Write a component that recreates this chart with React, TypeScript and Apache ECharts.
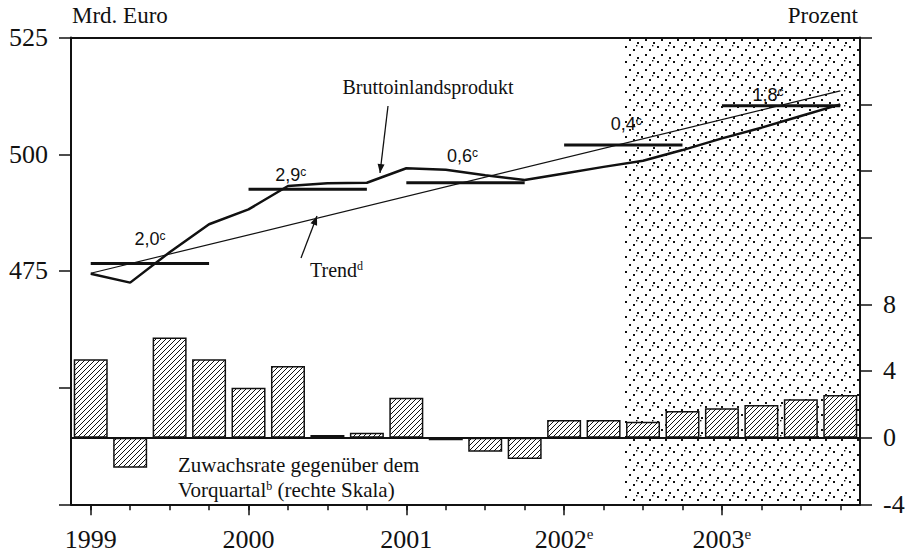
import React, { useEffect, useRef } from 'react';
import * as echarts from 'echarts';

// ---------- data ----------
const quarters = [
  '1999-Q1', '1999-Q2', '1999-Q3', '1999-Q4',
  '2000-Q1', '2000-Q2', '2000-Q3', '2000-Q4',
  '2001-Q1', '2001-Q2', '2001-Q3', '2001-Q4',
  '2002-Q1', '2002-Q2', '2002-Q3', '2002-Q4',
  '2003-Q1', '2003-Q2', '2003-Q3', '2003-Q4',
];
const yearLabels = ['1999', '2000', '2001', '2002{e|e}', '2003{e|e}'];

// Bruttoinlandsprodukt, Mrd. Euro (left scale)
const gdp = [
  474.4, 472.5, 479.0, 485.0,
  488.2, 493.2, 493.8, 493.9,
  497.0, 496.7, 495.5, 494.5,
  495.9, 497.3, 498.6, 500.9,
  503.4, 505.7, 508.2, 510.7,
];
// Zuwachsrate gegenüber dem Vorquartal, % (right scale)
const growthRate = [
  4.7, -1.8, 6.0, 4.7,
  3.0, 4.3, 0.16, 0.3,
  2.4, -0.15, -0.84, -1.28,
  1.06, 1.06, 0.96, 1.6,
  1.76, 1.96, 2.3, 2.56,
];
// Trend (start and end of the straight trend line)
const trendEnds = [474.5, 513.6];
// Annual averages and annual growth rates
const annualAverage = [476.6, 492.5, 493.9, 502.0, 510.4];
const annualGrowth = ['2,0', '2,9', '0,6', '0,4', '1,8'];
// forecast period starts with this quarter index
const forecastStart = 14;

// ---------- layout constants ----------
const labelOffsets = [[0, -24], [-17, -14], [-3, -27], [3, -21], [-13, -11]];
const SERIF = '"Liberation Serif", "Times New Roman", serif';
const SANS = '"Liberation Sans", Arial, sans-serif';
const INK = '#111';

function makeHatch() {
  const s = 5;
  const c = document.createElement('canvas');
  c.width = s; c.height = s;
  const ctx = c.getContext('2d')!;
  ctx.fillStyle = '#fff';
  ctx.fillRect(0, 0, s, s);
  ctx.strokeStyle = '#111';
  ctx.lineWidth = 1;
  for (const k of [-1, 0, 1]) {
    ctx.beginPath();
    ctx.moveTo(k * s, s);
    ctx.lineTo(k * s + s, 0);
    ctx.stroke();
  }
  return { image: c.toDataURL(), repeat: 'repeat', imageWidth: s, imageHeight: s };
}

function makeStipple() {
  const w = 16, h = 15;
  const c = document.createElement('canvas');
  c.width = w; c.height = h;
  const ctx = c.getContext('2d')!;
  ctx.clearRect(0, 0, w, h);
  ctx.fillStyle = '#111';
  const dots = [[1, 1, 2, 2], [9, 4, 2, 2], [5, 9, 2, 2], [13, 12, 2, 2], [12, 0, 1.4, 1.4]];
  dots.forEach(([x, y, a, b]) => ctx.fillRect(x, y, a, b));
  return { image: c.toDataURL(), repeat: 'repeat', imageWidth: w, imageHeight: h };
}

function arrowHead(tip: number[], from: number[], len = 9, half = 3.5) {
  const dx = tip[0] - from[0], dy = tip[1] - from[1];
  const d = Math.hypot(dx, dy);
  const ux = dx / d, uy = dy / d;
  const bx = tip[0] - ux * len, by = tip[1] - uy * len;
  return [tip, [bx - uy * half, by + ux * half], [bx + uy * half, by - ux * half]];
}

export default function App() {
  const ref = useRef<HTMLDivElement>(null);

  useEffect(() => {
    if (!ref.current) return;
    const chart = echarts.init(ref.current, undefined, { renderer: 'svg' });
    const hatch = makeHatch();
    const stipple = makeStipple();

    const segmentSeries = annualAverage.map((v, i) => ({
      type: 'line',
      xAxisIndex: 2,
      yAxisIndex: 0,
      z: 4,
      symbol: 'none',
      lineStyle: { color: INK, width: 3 },
      data: [[4 * i + 0.5, v], [4 * i + 3.5, v]],
      markPoint: {
        symbol: 'circle',
        symbolSize: 1,
        itemStyle: { color: 'rgba(0,0,0,0)' },
        silent: true,
        data: [{
          coord: [4 * i + 2, v],
          label: {
            show: true,
            offset: labelOffsets[i],
            formatter: `{n|${annualGrowth[i]}}{s|c}`,
            rich: {
              n: { fontFamily: SANS, fontSize: 18, color: INK },
              s: { fontFamily: SANS, fontSize: 12, color: INK, verticalAlign: 'top' },
            },
          },
        }],
      },
    }));

    const bipArrowFrom = [388, 106], bipArrowTip = [380, 173];
    const trendArrowFrom = [301, 258], trendArrowTip = [317, 216];

    const option: any = {
      animation: false,
      backgroundColor: '#fff',
      grid: { left: 71, right: 52, top: 37.6, bottom: 49.7, containLabel: false },
      xAxis: [
        {
          type: 'category',
          data: quarters,
          position: 'bottom',
          boundaryGap: true,
          axisLine: { show: true, onZero: false, lineStyle: { color: INK, width: 2 } },
          axisTick: { show: true, alignWithLabel: true, interval: 0, length: 6, lineStyle: { color: INK, width: 1.5 } },
          axisLabel: { show: false },
          splitLine: { show: false },
        },
        {
          type: 'category',
          data: quarters,
          position: 'bottom',
          boundaryGap: true,
          axisLine: { show: false, onZero: false },
          axisTick: {
            show: true, alignWithLabel: true, length: 11,
            interval: (i: number) => i % 4 === 0,
            lineStyle: { color: INK, width: 1.5 },
          },
          axisLabel: {
            show: true,
            interval: (i: number) => i % 4 === 0,
            formatter: (_v: string, i: number) => (i % 4 === 0 ? yearLabels[i / 4] : ''),
            margin: 22,
            color: INK,
            fontFamily: SERIF,
            fontSize: 26,
            rich: { e: { fontFamily: SERIF, fontSize: 15, color: INK, verticalAlign: 'top' } },
          },
          splitLine: { show: false },
        },
        {
          type: 'value',
          min: 0,
          max: 20,
          position: 'top',
          axisLine: { show: true, onZero: false, lineStyle: { color: INK, width: 2 } },
          axisTick: { show: false },
          axisLabel: { show: false },
          splitLine: { show: false },
        },
      ],
      yAxis: [
        {
          type: 'value',
          position: 'left',
          min: 425,
          max: 525,
          interval: 25,
          axisLine: { show: true, onZero: false, lineStyle: { color: INK, width: 2 } },
          axisTick: { show: true, length: 12, lineStyle: { color: INK, width: 1.5 } },
          axisLabel: {
            formatter: (v: number) => (v >= 475 ? String(v) : ''),
            color: INK, fontFamily: SERIF, fontSize: 26, margin: 23,
          },
          splitLine: { show: false },
        },
        {
          type: 'value',
          position: 'right',
          min: -4,
          max: 24,
          interval: 4,
          axisLine: { show: true, onZero: false, lineStyle: { color: INK, width: 2 } },
          axisTick: { show: true, length: 12, lineStyle: { color: INK, width: 1.5 } },
          axisLabel: {
            formatter: (v: number) => (v <= 8 ? String(v) : ''),
            color: INK, fontFamily: SERIF, fontSize: 26, margin: 23,
          },
          splitLine: { show: false },
        },
      ],
      series: [
        {
          type: 'line',
          name: 'forecast',
          xAxisIndex: 2,
          yAxisIndex: 0,
          z: 1,
          data: [],
          markArea: {
            silent: true,
            itemStyle: { color: stipple },
            data: [[{ xAxis: forecastStart }, { xAxis: quarters.length }]],
          },
        },
        {
          type: 'bar',
          name: 'Zuwachsrate',
          xAxisIndex: 0,
          yAxisIndex: 1,
          z: 2,
          barWidth: 34,
          data: growthRate,
          itemStyle: { color: hatch, borderColor: INK, borderWidth: 1.5 },
          markLine: {
            silent: true,
            symbol: 'none',
            label: { show: false },
            lineStyle: { color: INK, width: 2, type: 'solid' },
            data: [{ yAxis: 0 }],
          },
        },
        {
          type: 'line',
          name: 'Trend',
          xAxisIndex: 2,
          yAxisIndex: 0,
          z: 3,
          symbol: 'none',
          lineStyle: { color: INK, width: 1.2 },
          data: [[0.5, trendEnds[0]], [quarters.length - 0.5, trendEnds[1]]],
        },
        {
          type: 'line',
          name: 'Bruttoinlandsprodukt',
          xAxisIndex: 0,
          yAxisIndex: 0,
          z: 5,
          symbol: 'none',
          lineStyle: { color: INK, width: 2.5 },
          data: gdp,
        },
        ...segmentSeries,
      ],
      graphic: [
        {
          type: 'text', left: 72, top: 4,
          style: { text: 'Mrd. Euro', fontFamily: SERIF, fontSize: 23, fill: INK },
        },
        {
          type: 'text', right: 54, top: 4,
          style: { text: 'Prozent', fontFamily: SERIF, fontSize: 23, fill: INK },
        },
        {
          type: 'text', x: 428, y: 87,
          style: {
            text: 'Bruttoinlandsprodukt', fontFamily: SERIF, fontSize: 20, fill: INK,
            textAlign: 'center', textVerticalAlign: 'middle', align: 'center', verticalAlign: 'middle',
          },
        },
        {
          type: 'text', x: 310, y: 270,
          style: {
            text: '{a|Trend}{b|d}', fill: INK,
            textAlign: 'left', textVerticalAlign: 'middle', align: 'left', verticalAlign: 'middle',
            rich: {
              a: { fontFamily: SERIF, fontSize: 20, fill: INK, color: INK },
              b: { fontFamily: SERIF, fontSize: 12, fill: INK, color: INK, verticalAlign: 'top' },
            },
          },
        },
        {
          type: 'text', x: 178, y: 465,
          style: {
            text: 'Zuwachsrate gegenüber dem', fontFamily: SERIF, fontSize: 21, fill: INK,
            textAlign: 'left', textVerticalAlign: 'middle', align: 'left', verticalAlign: 'middle',
          },
        },
        {
          type: 'text', x: 178, y: 490,
          style: {
            text: '{a|Vorquartal}{b|b}{a| (rechte Skala)}', fill: INK,
            textAlign: 'left', textVerticalAlign: 'middle', align: 'left', verticalAlign: 'middle',
            rich: {
              a: { fontFamily: SERIF, fontSize: 21, fill: INK, color: INK },
              b: { fontFamily: SERIF, fontSize: 12, fill: INK, color: INK, verticalAlign: 'top' },
            },
          },
        },
        {
          type: 'line',
          shape: { x1: bipArrowFrom[0], y1: bipArrowFrom[1], x2: bipArrowTip[0], y2: bipArrowTip[1] },
          style: { stroke: INK, lineWidth: 1.3 },
          z: 10,
        },
        {
          type: 'polygon',
          shape: { points: arrowHead(bipArrowTip, bipArrowFrom) },
          style: { fill: INK },
          z: 10,
        },
        {
          type: 'line',
          shape: { x1: trendArrowFrom[0], y1: trendArrowFrom[1], x2: trendArrowTip[0], y2: trendArrowTip[1] },
          style: { stroke: INK, lineWidth: 1.3 },
          z: 10,
        },
        {
          type: 'polygon',
          shape: { points: arrowHead(trendArrowTip, trendArrowFrom) },
          style: { fill: INK },
          z: 10,
        },
      ],
    };

    chart.setOption(option);
    return () => chart.dispose();
  }, []);

  return (
    <div
      ref={ref}
      style={{ position: 'absolute', left: 0, top: 0, width: 912, height: 554, background: '#fff' }}
    />
  );
}
